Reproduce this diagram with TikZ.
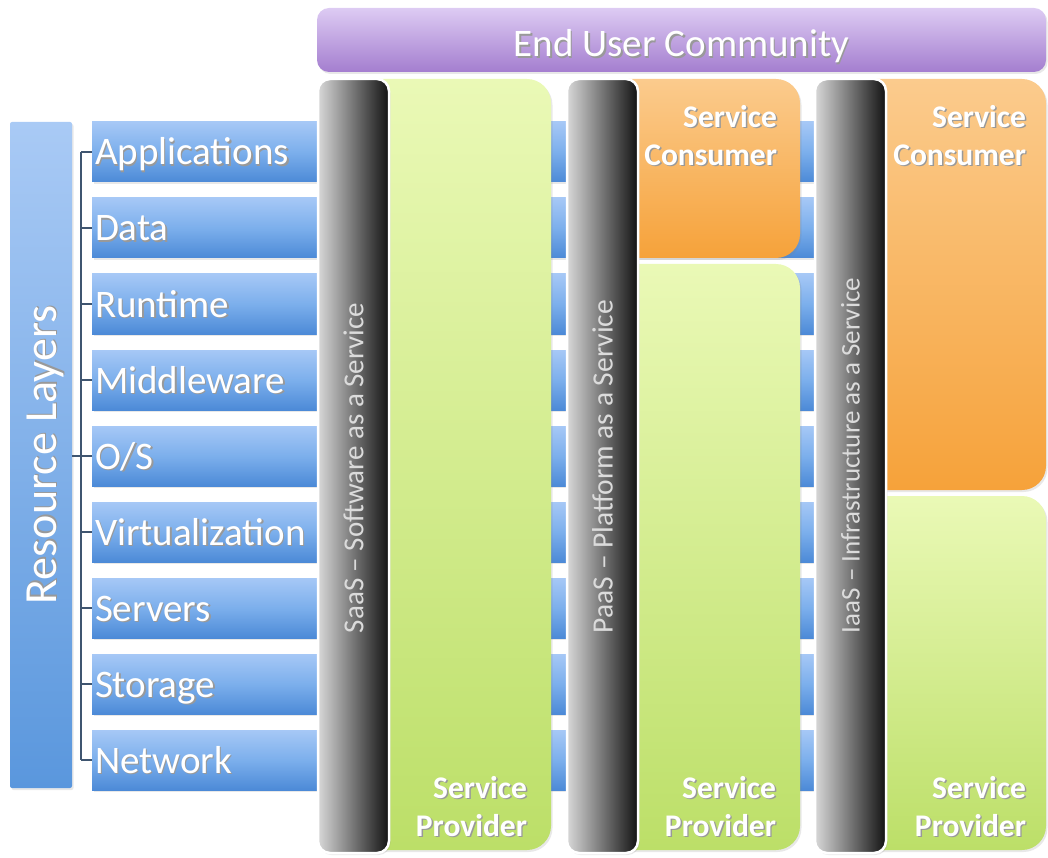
\documentclass[tikz,border=0pt]{standalone}
\usepackage{fontspec}
\setmainfont{Carlito}
\usetikzlibrary{calc,shadows}

\definecolor{blueTop}{HTML}{A6C8F6}
\definecolor{blueMid}{HTML}{7CAFEC}
\definecolor{blueBot}{HTML}{4C8AD7}
\definecolor{rlTop}{HTML}{A9CAF5}
\definecolor{rlBot}{HTML}{5A97DD}
\definecolor{purTop}{HTML}{DDCBF3}
\definecolor{purBot}{HTML}{A47ECF}
\definecolor{grnTop}{HTML}{EAF9B6}
\definecolor{grnBot}{HTML}{BCDF68}
\definecolor{orgTop}{HTML}{FBCB8D}
\definecolor{orgBot}{HTML}{F6A23A}
\definecolor{tierLight}{HTML}{D8D8D8}
\definecolor{tierMid}{HTML}{707070}
\definecolor{tierDark}{HTML}{121212}
\definecolor{treeLine}{HTML}{3F5570}

% white text with a soft dark offset shadow
\newcommand\shtext[1]{\makebox[0pt][l]{\hspace{1.4pt}\raisebox{-1.6pt}{\textcolor{black!40}{#1}}}#1}

\begin{document}
\begin{tikzpicture}[x=1pt,y=-1pt,
  every node/.style={inner sep=0pt, outer sep=0pt},
  softshadow/.style={drop shadow={opacity=0.18, shadow xshift=1.5pt, shadow yshift=-2pt}},
  layerbar/.style={anchor=north west, minimum height=60pt, minimum width=908pt,
    top color=blueTop, bottom color=blueBot, middle color=blueMid, softshadow},
  layertext/.style={anchor=base west, text=white, font=\fontsize{39}{42}\selectfont},
  rlbox/.style={anchor=north west, minimum width=62pt, minimum height=666pt,
    top color=rlTop, bottom color=rlBot, rounded corners=2pt, softshadow},
  treeline/.style={draw=treeLine, line width=1.1pt},
  eucbar/.style={anchor=north west, minimum width=729pt, minimum height=64pt,
    text height=34pt, text depth=0pt,
    rounded corners=12pt, top color=purTop, bottom color=purBot, text=white,
    font=\fontsize{39}{42}\selectfont, softshadow},
  provbox/.style={anchor=north west, rounded corners=24pt, top color=grnTop,
    bottom color=grnBot, softshadow},
  consbox/.style={anchor=north west, rounded corners=24pt, top color=orgTop,
    bottom color=orgBot, softshadow},
  boxlabel/.style={align=right, text=white, font=\fontsize{31.5}{38}\selectfont\bfseries},
  tierbar/.style={anchor=north west, minimum width=71pt, minimum height=774pt,
    rounded corners=12pt, left color=tierLight, middle color=tierMid,
    right color=tierDark, draw=white, line width=2.5pt, softshadow},
  tiertext/.style={rotate=90, anchor=west, text=white!86!black}
]
\useasboundingbox (0,0) rectangle (1048,858);

% resource layer bars with their names
\foreach \lbl [count=\i from 0] in {Applications,Data,Runtime,Middleware,{O/S},Virtualization,Servers,Storage,Network} {
  \node[layerbar] (layer\i) at (92,{122+76*\i}) {};
  \node[layertext] (layer\i txt) at ($(layer\i.west)+(3,13)$) {\shtext{\lbl}};
}

% resource layers group box
\node[rlbox] (rl) at (10,122) {};
\node[rotate=90, text=white, font=\fontsize{46}{50}\selectfont] (rltext) at ($(rl.center)+(5,0)$) {\shtext{Resource Layers}};

% bracket joining the group box to each layer
\coordinate (trunkTop) at ($(layer0.west)+(-11,0)$);
\coordinate (trunkBot) at ($(layer8.west)+(-11,0)$);
\draw[treeline] (trunkTop) -- (trunkBot);
\foreach \i in {0,...,8} {
  \draw[treeline] ($(layer\i.west)+(-11,0)$) -- (layer\i.west);
}
\draw[treeline] (rl.east |- layer4.west) -- ($(layer4.west)+(-11,0)$);

% end user community
\node[eucbar] (euc) at (317,8) {\shtext{End User Community}};

% provider and consumer boxes
\node[provbox, minimum width=211pt, minimum height=771pt] (prov1) at (340,79) {};
\node[consbox, minimum width=200pt, minimum height=179pt] (cons2) at (600,79) {};
\node[provbox, minimum width=200pt, minimum height=586pt] (prov2) at (600,264) {};
\node[consbox, minimum width=196pt, minimum height=411pt] (cons3) at (850,79) {};
\node[provbox, minimum width=196pt, minimum height=354pt] (prov3) at (850,496) {};

\node[boxlabel, anchor=south east] (prov1lbl) at ($(prov1.south east)+(-24,-12)$) {\shtext{Service}\\\shtext{Provider}};
\node[boxlabel, anchor=south east] (prov2lbl) at ($(prov2.south east)+(-24,-12)$) {\shtext{Service}\\\shtext{Provider}};
\node[boxlabel, anchor=south east] (prov3lbl) at ($(prov3.south east)+(-20,-12)$) {\shtext{Service}\\\shtext{Provider}};
\node[boxlabel, anchor=north east] (cons2lbl) at ($(cons2.north east)+(-23,26)$) {\shtext{Service}\\\shtext{Consumer}};
\node[boxlabel, anchor=north east] (cons3lbl) at ($(cons3.north east)+(-20,26)$) {\shtext{Service}\\\shtext{Consumer}};

% service model pillars, labels set from the foot upwards
\node[tierbar] (tier1) at (318,79) {};
\node[tierbar] (tier2) at (567,79) {};
\node[tierbar] (tier3) at (815,79) {};
\node[tiertext, font=\fontsize{29}{32}\selectfont] (tier1txt) at (tier1.center |- 0,633) {SaaS – Software as a Service};
\node[tiertext, font=\fontsize{29.5}{32}\selectfont] (tier2txt) at (tier2.center |- 0,633) {PaaS – Platform as a Service};
\node[tiertext, font=\fontsize{27}{30}\selectfont] (tier3txt) at (tier3.center |- 0,633) {IaaS – Infrastructure as a Service};
\end{tikzpicture}
\end{document}
